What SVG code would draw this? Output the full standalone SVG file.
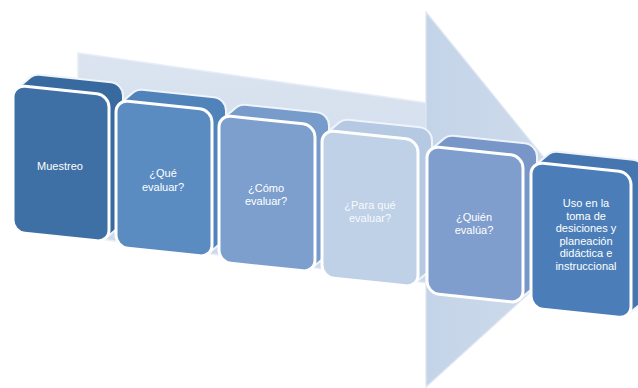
<svg xmlns="http://www.w3.org/2000/svg" xmlns:xlink="http://www.w3.org/1999/xlink" width="638" height="388" viewBox="0 0 638 388">
  <style>
    .face { stroke: #ffffff; stroke-width: 3; }
    .slab { stroke: #eef4fa; stroke-width: 2; stroke-linejoin: round; }
    .lbl { font-family: "Liberation Sans", Arial, sans-serif; font-size: 11px; fill: #ffffff; text-anchor: middle; }
  </style>
  <defs>
    <!-- front face of a block, in block-local coordinates -->
    <rect id="face" x="0" y="0" width="96" height="147" rx="12" ry="12"/>
    <rect id="face6" x="0" y="0" width="100" height="146" rx="12" ry="12"/>
    <!-- extruded depth behind the front face (offset up and to the right) -->
    <path id="slab" d="M3.8,3.2 L17.8,-9.8 A12,12 0 0 1 26,-13 L98,-13 A12,12 0 0 1 110,-1 L110,122 A12,12 0 0 1 106.2,130.8 L92.2,143.8 L50,70 Z"/>
    <path id="slab6" d="M3.8,3.2 L17.8,-9.8 A12,12 0 0 1 26,-13 L102,-13 A12,12 0 0 1 114,-1 L114,121 A12,12 0 0 1 110.2,129.8 L96.2,142.8 L50,70 Z"/>
    <linearGradient id="shaftFill" x1="0" y1="0" x2="0" y2="1">
      <stop offset="0" stop-color="#dbe4f0"/>
      <stop offset="1" stop-color="#cbd8ea"/>
    </linearGradient>
    <linearGradient id="headFill" x1="0" y1="0" x2="1" y2="0">
      <stop offset="0" stop-color="#c4d4e8"/>
      <stop offset="1" stop-color="#d1ddec"/>
    </linearGradient>
  </defs>

  <rect width="638" height="388" fill="#ffffff"/>

  <!-- large background arrow -->
  <g id="arrow">
    <polygon points="78,53 427,103 427,283 78,236" fill="url(#shaftFill)" stroke="#e6edf6" stroke-width="1.5"/>
    <polygon points="426,12 601,228 426,387" fill="url(#headFill)" stroke="#dfe7f1" stroke-width="1.2"/>
  </g>

  <g id="connectors"></g>

  <g id="box1" transform="matrix(1,0.105,0,1,13,85)">
    <use xlink:href="#slab" class="slab" fill="#396a9f"/>
    <use xlink:href="#face" class="face" fill="#3f70a5"/>
  </g>
  <g id="box2" transform="matrix(1,0.105,0,1,116,100)">
    <use xlink:href="#slab" class="slab" fill="#5083ba"/>
    <use xlink:href="#face" class="face" fill="#5a8cc2"/>
  </g>
  <g id="box3" transform="matrix(1,0.105,0,1,219,115)">
    <use xlink:href="#slab" class="slab" fill="#779bca"/>
    <use xlink:href="#face" class="face" fill="#7d9fcd"/>
  </g>
  <g id="box4" transform="matrix(1,0.105,0,1,322,130)">
    <use xlink:href="#slab" class="slab" fill="#b6c9e2"/>
    <use xlink:href="#face" class="face" fill="#bfd1e7"/>
  </g>
  <g id="box5" transform="matrix(1,0.105,0,1,427,146)">
    <use xlink:href="#slab" class="slab" fill="#7897c8"/>
    <use xlink:href="#face" class="face" fill="#7f9ecd"/>
  </g>
  <g id="box6" transform="matrix(1,0.105,0,1,531,162)">
    <use xlink:href="#slab6" class="slab" fill="#4576b0"/>
    <use xlink:href="#face6" class="face" fill="#4b7eb8"/>
  </g>

  <!-- labels -->
  <g id="labels">
    <text class="lbl" x="60" y="170">Muestreo</text>
    <text class="lbl" x="163" y="177">¿Qué</text>
    <text class="lbl" x="163" y="191">evaluar?</text>
    <text class="lbl" x="266" y="192">¿Cómo</text>
    <text class="lbl" x="266" y="205">evaluar?</text>
    <text class="lbl" x="370" y="209" fill-opacity="0.9">¿Para qué</text>
    <text class="lbl" x="370" y="222" fill-opacity="0.9">evaluar?</text>
    <text class="lbl" x="474" y="221">¿Quién</text>
    <text class="lbl" x="474" y="234">evalúa?</text>
    <text class="lbl" x="586" y="207">Uso en la</text>
    <text class="lbl" x="586" y="219.5">toma de</text>
    <text class="lbl" x="586" y="232">desiciones y</text>
    <text class="lbl" x="586" y="244.5">planeación</text>
    <text class="lbl" x="586" y="257">didáctica e</text>
    <text class="lbl" x="586" y="269.5">instruccional</text>
  </g>
</svg>
